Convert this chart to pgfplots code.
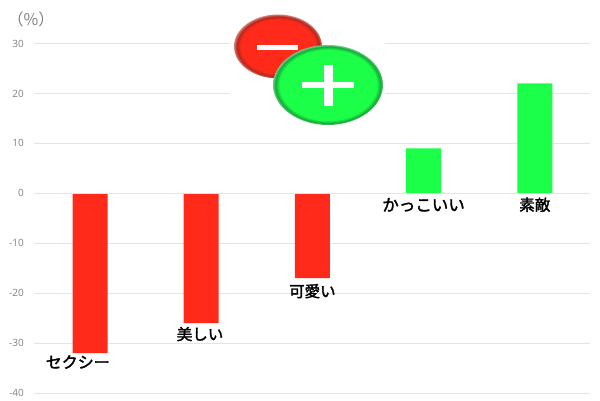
\documentclass[border=0pt]{standalone}
\usepackage{pgfplots}
\pgfplotsset{compat=1.18}
\usepackage{fontspec}
\setmainfont{Open Sans}
\newfontfamily\cjk{Noto Sans CJK JP}
\definecolor{barred}{HTML}{FF2A1A}
\definecolor{bargreen}{HTML}{1CFF48}
\definecolor{gridc}{HTML}{E4E4E4}
\definecolor{tickc}{HTML}{808080}
\definecolor{reddark}{HTML}{B5281C}
\definecolor{greendark}{HTML}{12A838}
\pgfdeclareradialshading{redball}{\pgfpointorigin}{color(0bp)=(barred); color(21bp)=(barred); color(23.5bp)=(reddark); color(25bp)=(reddark!60!white); color(50bp)=(reddark!60!white)}
\pgfdeclareradialshading{greenball}{\pgfpointorigin}{color(0bp)=(bargreen); color(22bp)=(bargreen); color(24bp)=(greendark); color(25bp)=(greendark!60!white); color(50bp)=(greendark!60!white)}
\begin{document}
\begin{tikzpicture}[x=1pt,y=1pt]
\path[use as bounding box] (0,0) rectangle (600,400);
\begin{axis}[
  at={(34.4pt,7pt)},anchor=south west,
  scale only axis,width=556pt,height=349.5pt,
  xmin=0,xmax=5,ymin=-40,ymax=30,
  axis line style={draw=none},
  ytick={-40,-30,-20,-10,0,10,20,30},
  xtick=\empty,
  ymajorgrids,
  grid style={gridc,line width=0.9pt},
  major tick length=0pt,
  tick label style={font=\fontsize{10}{10}\selectfont,text=tickc},
  /pgf/number format/assume math mode=true,
  yticklabel style={xshift=-7pt},
  ybar,bar width=35pt,
  clip=false,
]
\addplot[fill=barred,draw=none,bar shift=0pt] coordinates {(0.5,-32) (1.5,-26) (2.5,-17)};
\addplot[fill=bargreen,draw=none,bar shift=0pt] coordinates {(3.5,9) (4.5,22)};
\draw[gridc,line width=1pt] (axis cs:0,0) -- (axis cs:5,0);
\node[font=\cjk\fontsize{16}{16}\selectfont\addfontfeature{FakeBold=2},text=black] at (axis cs:0.39,-33.8) {セクシー};
\node[font=\cjk\fontsize{15.5}{16}\selectfont\addfontfeature{FakeBold=2},text=black] at (axis cs:1.49,-28.2) {美しい};
\node[font=\cjk\fontsize{15.5}{16}\selectfont\addfontfeature{FakeBold=2},text=black] at (axis cs:2.5,-19.6) {可愛い};
\node[font=\cjk\fontsize{16.5}{16}\selectfont\addfontfeature{FakeBold=2},text=black] at (axis cs:3.5,-2.3) {かっこいい};
\node[font=\cjk\fontsize{15.5}{16}\selectfont\addfontfeature{FakeBold=2},text=black] at (axis cs:4.5,-2.3) {素敵};
\end{axis}
\fill[white] (230,300) rectangle (385,362);
\node[font=\cjk\fontsize{16}{16}\selectfont,text=gray] at (31,381) {（\%）};
% logo
\shade[shading=redball] (278,353.5) ellipse (44 and 32);
\fill[white] (257,350) rectangle (298,355);
\shade[shading=greenball] (328,315) ellipse (55 and 40);
\fill[white] (302,312) rectangle (354,318);
\fill[white] (324,294) rectangle (333,335);
\end{tikzpicture}
\end{document}
